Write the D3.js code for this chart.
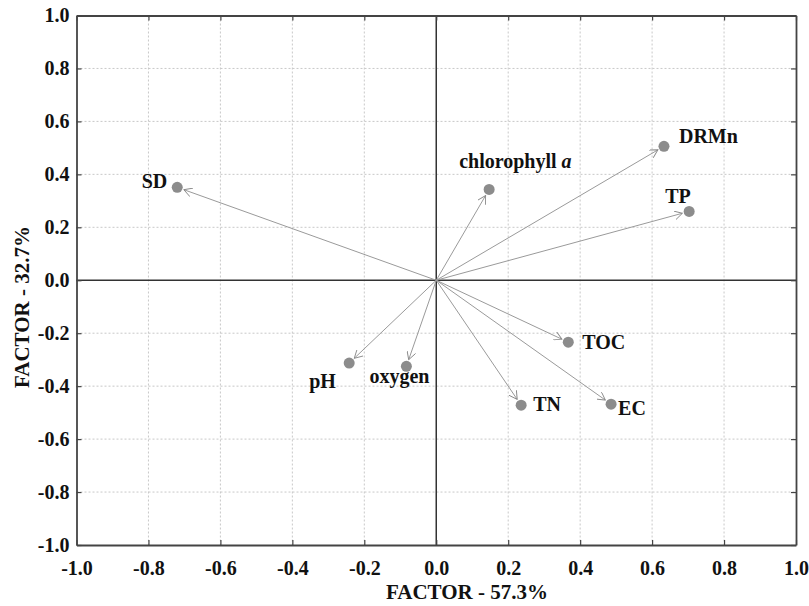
<!DOCTYPE html>
<html>
<head>
<meta charset="utf-8">
<script src="https://cdn.jsdelivr.net/npm/d3@7"></script>
<style>
  body { margin: 0; background: #fff; }
  text { font-family: "Liberation Serif", "Times New Roman", serif; font-weight: bold; fill: #111; }
</style>
</head>
<body>
<div id="chart"></div>
<script>
// PCA loadings
var variables = ['SD', 'chlorophyll a', 'DRMn', 'TP', 'TOC', 'EC', 'TN', 'oxygen', 'pH'];
var factor1 = [-0.72, 0.147, 0.633, 0.703, 0.367, 0.486, 0.236, -0.083, -0.242];
var factor2 = [0.351, 0.343, 0.506, 0.260, -0.234, -0.468, -0.472, -0.325, -0.313];
var tickValues = [-1.0, -0.8, -0.6, -0.4, -0.2, 0.0, 0.2, 0.4, 0.6, 0.8, 1.0];
var xTitle = 'FACTOR - 57.3%';
var yTitle = 'FACTOR - 32.7%';

// label placement around each point (pixels)
var labelPos = {
  'SD': { dx: -10, dy: 1, anchor: 'end' },
  'chlorophyll a': { dx: -30, dy: -21, anchor: 'start' },
  'DRMn': { dx: 15, dy: -3, anchor: 'start' },
  'TP': { dx: -24, dy: -8, anchor: 'start' },
  'TOC': { dx: 14, dy: 7, anchor: 'start' },
  'EC': { dx: 7, dy: 11, anchor: 'start' },
  'TN': { dx: 12, dy: 6, anchor: 'start' },
  'oxygen': { dx: -37, dy: 17, anchor: 'start' },
  'pH': { dx: -40, dy: 25, anchor: 'start' }
};

var W = 809, H = 606;
var x = d3.scaleLinear().domain([-1, 1]).range([76.5, 796]);
var y = d3.scaleLinear().domain([-1, 1]).range([545, 15.5]);
var fmt = function(d) { return d3.format('.1f')(d).replace('\u2212', '-'); };

var svg = d3.select('#chart').append('svg')
  .attr('width', W)
  .attr('height', H);

svg.append('defs').append('marker')
  .attr('id', 'head')
  .attr('viewBox', '0 0 10 10')
  .attr('refX', 9)
  .attr('refY', 5)
  .attr('markerWidth', 9)
  .attr('markerHeight', 9)
  .attr('markerUnits', 'userSpaceOnUse')
  .attr('orient', 'auto')
  .append('path')
    .attr('d', 'M0,0L9,5L0,10')
    .attr('fill', 'none')
    .attr('stroke', '#8a8a8a')
    .attr('stroke-width', 1);

var inner = tickValues.filter(function(d) { return Math.abs(d) < 1 && d !== 0; });

// grid
svg.append('g').selectAll('line')
  .data(inner)
  .enter().append('line')
    .attr('x1', function(d) { return x(d); })
    .attr('x2', function(d) { return x(d); })
    .attr('y1', y(1))
    .attr('y2', y(-1))
    .attr('stroke', '#c8c8c8')
    .attr('stroke-dasharray', '2,2');

svg.append('g').selectAll('line')
  .data(inner)
  .enter().append('line')
    .attr('y1', function(d) { return y(d); })
    .attr('y2', function(d) { return y(d); })
    .attr('x1', x(-1))
    .attr('x2', x(1))
    .attr('stroke', '#c8c8c8')
    .attr('stroke-dasharray', '2,2');

// zero lines
svg.append('line')
  .attr('x1', x(0)).attr('x2', x(0))
  .attr('y1', y(1)).attr('y2', y(-1))
  .attr('stroke', '#333').attr('stroke-width', 1.5);
svg.append('line')
  .attr('x1', x(-1)).attr('x2', x(1))
  .attr('y1', y(0)).attr('y2', y(0))
  .attr('stroke', '#333').attr('stroke-width', 1.5);

// axes with inner ticks
var axBottom = svg.append('g')
  .attr('transform', 'translate(0,' + y(-1) + ')')
  .call(d3.axisBottom(x).tickValues(tickValues).tickSizeInner(-5).tickSizeOuter(0).tickPadding(16).tickFormat(fmt));
var axTop = svg.append('g')
  .attr('transform', 'translate(0,' + y(1) + ')')
  .call(d3.axisTop(x).tickValues(tickValues).tickSizeInner(-5).tickSizeOuter(0).tickFormat(''));
var axLeft = svg.append('g')
  .attr('transform', 'translate(' + x(-1) + ',0)')
  .call(d3.axisLeft(y).tickValues(tickValues).tickSizeInner(-5).tickSizeOuter(0).tickPadding(7).tickFormat(fmt));
var axRight = svg.append('g')
  .attr('transform', 'translate(' + x(1) + ',0)')
  .call(d3.axisRight(y).tickValues(tickValues).tickSizeInner(-5).tickSizeOuter(0).tickFormat(''));

[axBottom, axTop, axLeft, axRight].forEach(function(g) {
  g.select('.domain').attr('stroke', '#444').attr('stroke-width', 1.8);
  g.selectAll('.tick line').attr('stroke', '#444').attr('stroke-width', 1.2);
  g.selectAll('.tick text')
    .attr('font-family', '"Liberation Serif", serif')
    .attr('font-weight', 'bold')
    .attr('font-size', 20)
    .attr('fill', '#111');
});

// points
var pts = variables.map(function(v, i) {
  return { name: v, fx: factor1[i], fy: factor2[i] };
});

function shorten(d, axis) {
  var dx = x(d.fx) - x(0), dy = y(d.fy) - y(0);
  var len = Math.sqrt(dx * dx + dy * dy);
  var k = (len - 7) / len;
  return axis === 'x' ? x(0) + dx * k : y(0) + dy * k;
}

svg.append('g').selectAll('line')
  .data(pts)
  .enter().append('line')
    .attr('x1', x(0))
    .attr('y1', y(0))
    .attr('x2', function(d) { return shorten(d, 'x'); })
    .attr('y2', function(d) { return shorten(d, 'y'); })
    .attr('stroke', '#9a9a9a')
    .attr('stroke-width', 1)
    .attr('marker-end', 'url(#head)');

svg.append('g').selectAll('circle')
  .data(pts)
  .enter().append('circle')
    .attr('cx', function(d) { return x(d.fx); })
    .attr('cy', function(d) { return y(d.fy); })
    .attr('r', 5.5)
    .attr('fill', '#8c8c8c');

var labels = svg.append('g').selectAll('text')
  .data(pts)
  .enter().append('text')
    .attr('x', function(d) { return x(d.fx) + labelPos[d.name].dx; })
    .attr('y', function(d) { return y(d.fy) + labelPos[d.name].dy; })
    .attr('text-anchor', function(d) { return labelPos[d.name].anchor; })
    .attr('font-size', 20);

labels.each(function(d) {
  var t = d3.select(this);
  if (d.name === 'chlorophyll a') {
    t.append('tspan').text('chlorophyll ');
    t.append('tspan').attr('font-style', 'italic').text('a');
  } else {
    t.text(d.name);
  }
});

// axis titles
svg.append('text')
  .attr('x', 467)
  .attr('y', 599)
  .attr('text-anchor', 'middle')
  .attr('font-size', 21)
  .text(xTitle);

svg.append('text')
  .attr('transform', 'translate(29,307) rotate(-90)')
  .attr('text-anchor', 'middle')
  .attr('font-size', 21)
  .text(yTitle);
</script>
</body>
</html>
